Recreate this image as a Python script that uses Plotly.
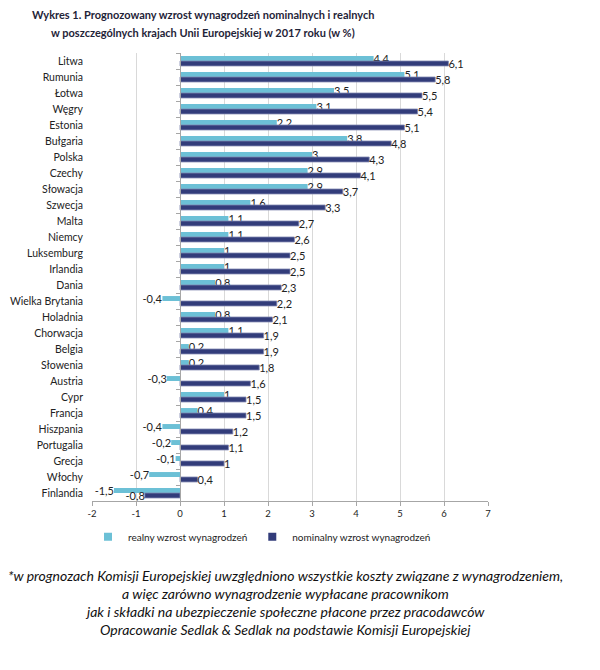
import plotly.graph_objects as go

categories = ["Litwa", "Rumunia", "Łotwa", "Węgry", "Estonia", "Bułgaria", "Polska", "Czechy",
              "Słowacja", "Szwecja", "Malta", "Niemcy", "Luksemburg", "Irlandia", "Dania",
              "Wielka Brytania", "Holadnia", "Chorwacja", "Belgia", "Słowenia", "Austria", "Cypr",
              "Francja", "Hiszpania", "Portugalia", "Grecja", "Włochy", "Finlandia"]
real = [4.4, 5.1, 3.5, 3.1, 2.2, 3.8, 3, 2.9, 2.9, 1.6, 1.1, 1.1, 1, 1, 0.8, -0.4, 0.8, 1.1,
        0.2, 0.2, -0.3, 1, 0.4, -0.4, -0.2, -0.1, -0.7, -1.5]
nominal = [6.1, 5.8, 5.5, 5.4, 5.1, 4.8, 4.3, 4.1, 3.7, 3.3, 2.7, 2.6, 2.5, 2.5, 2.3, 2.2, 2.1,
           1.9, 1.9, 1.8, 1.6, 1.5, 1.5, 1.2, 1.1, 1, 0.4, -0.8]
series_names = ["realny wzrost wynagrodzeń", "nominalny wzrost wynagrodzeń"]
x_ticks = [-2, -1, 0, 1, 2, 3, 4, 5, 6, 7]

title_lines = ["Wykres 1. Prognozowany wzrost wynagrodzeń nominalnych i realnych",
               "w poszczególnych krajach Unii Europejskiej w 2017 roku (w %)"]
footnote_lines = ["*w prognozach Komisji Europejskiej uwzględniono wszystkie koszty związane z wynagrodzeniem,",
                  "a więc zarówno wynagrodzenie wypłacane pracownikom",
                  "jak i składki na ubezpieczenie społeczne płacone przez pracodawców",
                  "Opracowanie Sedlak & Sedlak na podstawie Komisji Europejskiej"]

def fmt(v):
    return f"{v:g}".replace(".", ",")

FONT = "Lato"
LIGHT = "#6CC0D6"
DARK = "#323C7A"
colors = [LIGHT, DARK]

fig = go.Figure()
fig.add_trace(go.Bar(
    y=categories, x=real, orientation="h", name=series_names[0], showlegend=False,
    marker=dict(color=LIGHT, line=dict(width=0)),
    text=[fmt(v) for v in real], textposition="outside", constraintext="none",
    textfont=dict(family=FONT, size=11, color="#222222"), cliponaxis=False,
))
fig.add_trace(go.Bar(
    y=categories, x=nominal, orientation="h", name=series_names[1], showlegend=False,
    marker=dict(color=DARK, line=dict(width=0.8, color="#7F86B0")),
    text=[fmt(v) for v in nominal], textposition="outside", constraintext="none",
    textfont=dict(family=FONT, size=11, color="#222222"), cliponaxis=False,
))
# legend entries with small square markers
for name, c in zip(series_names, colors):
    fig.add_trace(go.Scatter(x=[None], y=[None], mode="markers", name=name,
                             marker=dict(symbol="square", size=8, color=c)))
# invisible helper trace for the vertical axis drawn at x = 0
fig.add_trace(go.Scatter(
    y=categories, x=[0] * len(categories), yaxis="y2", mode="markers",
    marker=dict(opacity=0), showlegend=False, hoverinfo="skip",
))

n = len(categories)
fig.update_layout(
    width=600, height=670,
    margin=dict(l=92, r=112, t=53, b=169, autoexpand=False),
    paper_bgcolor="white", plot_bgcolor="white",
    barmode="group", bargap=0.38, bargroupgap=0,
    font=dict(family=FONT, size=10.5, color="#222222"),
    showlegend=True,
    legend=dict(orientation="h", x=(262 - 92) / 396, xanchor="center", y=-0.08, yanchor="middle",
                font=dict(family=FONT, size=10, color="#222222"),
                itemwidth=30, traceorder="normal", tracegroupgap=0),
    xaxis=dict(range=[-2, 7], tickvals=x_ticks, ticktext=[str(t) for t in x_ticks],
               showgrid=True, gridcolor="#D9D9D9", gridwidth=1, zeroline=False,
               showline=True, linecolor="#A6A6A6", linewidth=1,
               ticks="outside", ticklen=4, tickcolor="#A6A6A6",
               tickfont=dict(family=FONT, size=9.5, color="#222222"), fixedrange=True),
    yaxis=dict(type="category", categoryorder="array", categoryarray=categories,
               range=[n - 0.5, -0.5], showgrid=False, zeroline=False, showline=False,
               ticks="", ticklabelstandoff=8,
               tickfont=dict(family=FONT, size=10.5, color="#222222")),
    yaxis2=dict(type="category", categoryorder="array", categoryarray=categories,
                range=[n - 0.5, -0.5], overlaying="y", anchor="free", position=2 / 9,
                side="left", showgrid=False, zeroline=False, showline=True,
                linecolor="#A6A6A6", linewidth=1, ticks="outside", ticklen=4,
                tickcolor="#A6A6A6", tickson="boundaries", showticklabels=False),
)

for i, line in enumerate(title_lines):
    fig.add_annotation(text="<b>" + line + "</b>", xref="paper", yref="paper",
                       x=(203 - 92) / 396, y=1 + (53 - (14 + 18 * i)) / 448,
                       xanchor="center", yanchor="middle", showarrow=False,
                       font=dict(family=FONT, size=11, color="#1F2438"))

for i, line in enumerate(footnote_lines):
    fig.add_annotation(text="<i>" + line + "</i>", xref="paper", yref="paper",
                       x=(285 - 92) / 396, y=(501 - (575 + 18 * i)) / 448,
                       xanchor="center", yanchor="middle", showarrow=False,
                       font=dict(family=FONT, size=14, color="#111111"))

fig.write_html("out.html", config={"displayModeBar": False},
               post_script="document.body.style.margin='0';")
